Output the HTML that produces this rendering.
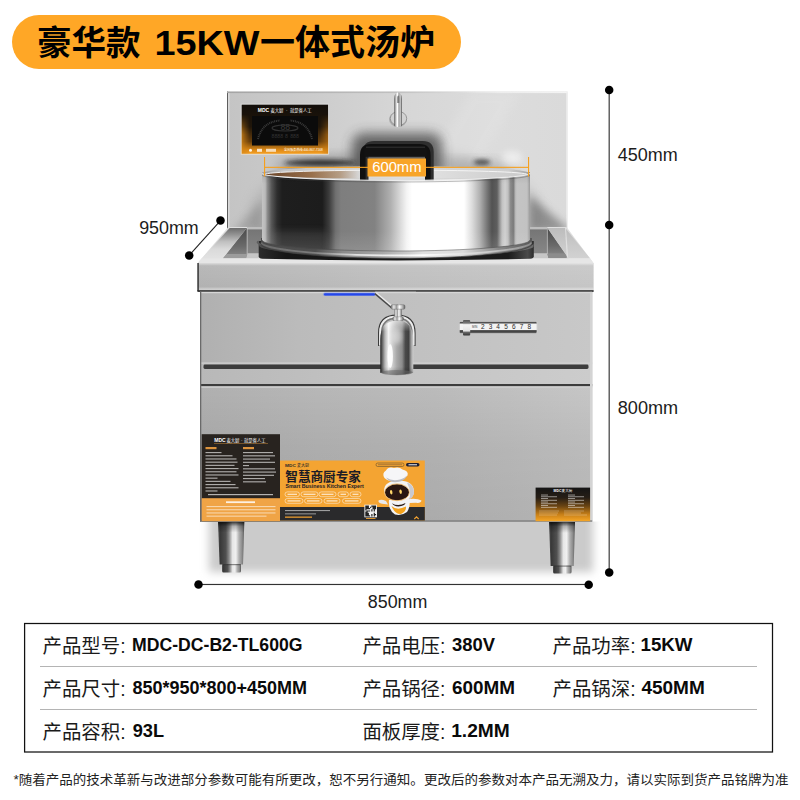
<!DOCTYPE html>
<html><head><meta charset="utf-8"><title>product</title>
<style>html,body{margin:0;padding:0;width:800px;height:800px;overflow:hidden;background:#fff;font-family:"Liberation Sans",sans-serif}svg{display:block}svg text{font-family:"Liberation Sans","Noto Sans CJK SC",sans-serif}</style>
</head><body><svg width="800" height="800" viewBox="0 0 800 800">
<defs>
<linearGradient id="gBack" x1="0" y1="0" x2="1" y2="0">
 <stop offset="0" stop-color="#c4c4c4"/><stop offset="0.25" stop-color="#cccccc"/><stop offset="0.5" stop-color="#d6d6d6"/><stop offset="0.8" stop-color="#dcdcdc"/><stop offset="1" stop-color="#dadada"/>
</linearGradient>
<linearGradient id="gPot" x1="262" y1="0" x2="530" y2="0" gradientUnits="userSpaceOnUse"><stop offset="0" stop-color="#c4c4c4"/><stop offset="0.012" stop-color="#bababa"/><stop offset="0.02" stop-color="#8c8c8c"/><stop offset="0.036" stop-color="#565656"/><stop offset="0.056" stop-color="#2e2e2e"/><stop offset="0.075" stop-color="#1e1e1e"/><stop offset="0.225" stop-color="#1c1c1c"/><stop offset="0.25" stop-color="#3c3c3c"/><stop offset="0.275" stop-color="#707070"/><stop offset="0.295" stop-color="#7e7e7e"/><stop offset="0.42" stop-color="#828282"/><stop offset="0.48" stop-color="#b0b0b0"/><stop offset="0.52" stop-color="#dedede"/><stop offset="0.54" stop-color="#f4f4f4"/><stop offset="0.56" stop-color="#ffffff"/><stop offset="0.754" stop-color="#ffffff"/><stop offset="0.784" stop-color="#dcdcdc"/><stop offset="0.813" stop-color="#b0b0b0"/><stop offset="0.843" stop-color="#707070"/><stop offset="0.858" stop-color="#525252"/><stop offset="0.877" stop-color="#5e5e5e"/><stop offset="0.888" stop-color="#9a9a9a"/><stop offset="0.896" stop-color="#c2c2c2"/><stop offset="0.907" stop-color="#d0d0d0"/><stop offset="0.918" stop-color="#c0c0c0"/><stop offset="0.927" stop-color="#8c8c8c"/><stop offset="0.938" stop-color="#7a7a7a"/><stop offset="0.946" stop-color="#b8b8b8"/><stop offset="0.951" stop-color="#c4c4c4"/><stop offset="0.989" stop-color="#c2c2c2"/><stop offset="1" stop-color="#9a9a9a"/></linearGradient>
<linearGradient id="gLower" x1="0" y1="0" x2="1" y2="0"><stop offset="0" stop-color="#b0b0b0"/><stop offset="0.3" stop-color="#b7b7b7"/><stop offset="0.6" stop-color="#bbbbbb"/><stop offset="1" stop-color="#c6c6c6"/></linearGradient>
<linearGradient id="gMid" x1="0" y1="0" x2="1" y2="0"><stop offset="0" stop-color="#b0b0b0"/><stop offset="0.25" stop-color="#bbbbbb"/><stop offset="0.5" stop-color="#c0c0c0"/><stop offset="1" stop-color="#c8c8c8"/></linearGradient>
<linearGradient id="gShadow" x1="0" y1="0" x2="0" y2="1">
 <stop offset="0" stop-color="#dedede"/><stop offset="1" stop-color="#ffffff"/>
</linearGradient>
<linearGradient id="gLeg" x1="0" y1="0" x2="1" y2="0"><stop offset="0" stop-color="#555"/><stop offset="0.08" stop-color="#383838"/><stop offset="0.3" stop-color="#505050"/><stop offset="0.42" stop-color="#8a8a8a"/><stop offset="0.55" stop-color="#e6e6e6"/><stop offset="0.68" stop-color="#f0f0f0"/><stop offset="0.8" stop-color="#b0b0b0"/><stop offset="0.92" stop-color="#8a8a8a"/><stop offset="1" stop-color="#585858"/></linearGradient>
<linearGradient id="gChrome" x1="0" y1="0" x2="1" y2="0">
 <stop offset="0" stop-color="#777"/><stop offset="0.2" stop-color="#e8e8e8"/><stop offset="0.4" stop-color="#9a9a9a"/><stop offset="0.6" stop-color="#fff"/><stop offset="0.8" stop-color="#bbb"/><stop offset="1" stop-color="#666"/>
</linearGradient>
<linearGradient id="gBasin" x1="0" y1="0" x2="0" y2="1"><stop offset="0" stop-color="#747474"/><stop offset="1" stop-color="#8a8a8a"/></linearGradient>
<linearGradient id="gRimL" x1="0" y1="0" x2="0" y2="1"><stop offset="0" stop-color="#6c6c6c"/><stop offset="0.2" stop-color="#909090"/><stop offset="0.45" stop-color="#c0c0c0"/><stop offset="0.7" stop-color="#dadada"/><stop offset="1" stop-color="#e2e2e2"/></linearGradient>
<linearGradient id="gRimR" x1="0" y1="0" x2="0" y2="1"><stop offset="0" stop-color="#bcbcbc"/><stop offset="0.5" stop-color="#c8c8c8"/><stop offset="1" stop-color="#d2d2d2"/></linearGradient>
<linearGradient id="gPotBand" x1="262" y1="0" x2="530" y2="0" gradientUnits="userSpaceOnUse">
 <stop offset="0" stop-color="#4a4a4a"/><stop offset="0.2" stop-color="#4e4e4e"/><stop offset="0.3" stop-color="#8a8a8a"/><stop offset="0.45" stop-color="#a8a8a8"/><stop offset="0.6" stop-color="#e0e0e0"/><stop offset="0.75" stop-color="#dadada"/><stop offset="0.88" stop-color="#8a8a8a"/><stop offset="1" stop-color="#5a5a5a"/>
</linearGradient>
<linearGradient id="gPanelV" x1="0" y1="0" x2="0" y2="1"><stop offset="0" stop-color="#120e0a"/><stop offset="0.45" stop-color="#20160a"/><stop offset="0.75" stop-color="#6a400c"/><stop offset="0.92" stop-color="#e08c18"/><stop offset="1" stop-color="#f7a224"/></linearGradient>
<linearGradient id="gPanelH" x1="0" y1="0" x2="1" y2="0"><stop offset="0" stop-color="#d98a18" stop-opacity="0.8"/><stop offset="0.1" stop-color="#c87a14" stop-opacity="0"/><stop offset="0.9" stop-color="#c87a14" stop-opacity="0"/><stop offset="1" stop-color="#c87a14" stop-opacity="0.6"/></linearGradient>
<linearGradient id="gPanelM" x1="0" y1="0" x2="0" y2="1"><stop offset="0" stop-color="#fff" stop-opacity="0"/><stop offset="0.2" stop-color="#fff" stop-opacity="0"/><stop offset="0.6" stop-color="#fff" stop-opacity="1"/><stop offset="1" stop-color="#fff" stop-opacity="1"/></linearGradient>
<mask id="mPanel"><rect x="241" y="104" width="88" height="51" fill="url(#gPanelM)"/></mask>
<linearGradient id="gRing" x1="258" y1="0" x2="536" y2="0" gradientUnits="userSpaceOnUse"><stop offset="0" stop-color="#2c2c2c"/><stop offset="0.1" stop-color="#161616"/><stop offset="0.9" stop-color="#1c1c1c"/><stop offset="0.97" stop-color="#4a4a4a"/><stop offset="1" stop-color="#222"/></linearGradient>
<linearGradient id="gPotV" x1="0" y1="172" x2="0" y2="251" gradientUnits="userSpaceOnUse"><stop offset="0" stop-color="#000" stop-opacity="0.10"/><stop offset="0.15" stop-color="#000" stop-opacity="0"/><stop offset="0.75" stop-color="#fff" stop-opacity="0"/><stop offset="1" stop-color="#fff" stop-opacity="0.12"/></linearGradient>
<linearGradient id="gInside" x1="0" y1="0" x2="1" y2="0"><stop offset="0" stop-color="#b0b0b0"/><stop offset="0.35" stop-color="#d6d6d6"/><stop offset="0.6" stop-color="#e2e2e2"/><stop offset="1" stop-color="#cacaca"/></linearGradient>
<linearGradient id="gBrown" x1="0" y1="0" x2="1" y2="0"><stop offset="0" stop-color="#5a3010" stop-opacity="0.85"/><stop offset="0.5" stop-color="#8a5424" stop-opacity="0.75"/><stop offset="0.8" stop-color="#9a6a3a" stop-opacity="0.5"/><stop offset="1" stop-color="#9a6a3a" stop-opacity="0"/></linearGradient>
<linearGradient id="gLblR" x1="0" y1="0" x2="0" y2="1"><stop offset="0" stop-color="#141414"/><stop offset="0.3" stop-color="#261e16"/><stop offset="0.55" stop-color="#6a4412"/><stop offset="0.8" stop-color="#c88018"/><stop offset="1" stop-color="#f6a626"/></linearGradient>
<linearGradient id="gSpout" x1="0" y1="0" x2="1" y2="0"><stop offset="0" stop-color="#1e1e1e"/><stop offset="0.05" stop-color="#5a5a5a"/><stop offset="0.14" stop-color="#b4b4b4"/><stop offset="0.25" stop-color="#f4f4f4"/><stop offset="0.36" stop-color="#d0d0d0"/><stop offset="0.5" stop-color="#a8a8a8"/><stop offset="0.66" stop-color="#8c8c8c"/><stop offset="0.76" stop-color="#4a4a4a"/><stop offset="0.86" stop-color="#404040"/><stop offset="0.93" stop-color="#9a9a9a"/><stop offset="1" stop-color="#d0d0d0"/></linearGradient>
<linearGradient id="gSpoutV" x1="0" y1="0" x2="0" y2="1"><stop offset="0" stop-color="#fff" stop-opacity="0.5"/><stop offset="0.2" stop-color="#fff" stop-opacity="0"/><stop offset="0.85" stop-color="#000" stop-opacity="0"/><stop offset="1" stop-color="#000" stop-opacity="0.25"/></linearGradient>
<linearGradient id="gFlange" x1="0" y1="0" x2="1" y2="0"><stop offset="0" stop-color="#6a6a6a"/><stop offset="0.12" stop-color="#e8e8e8"/><stop offset="0.3" stop-color="#9a9a9a"/><stop offset="0.7" stop-color="#aaaaaa"/><stop offset="0.88" stop-color="#e0e0e0"/><stop offset="1" stop-color="#5e5e5e"/></linearGradient>
<linearGradient id="gLegV" x1="0" y1="0" x2="0" y2="1"><stop offset="0" stop-color="#000" stop-opacity="0.75"/><stop offset="0.1" stop-color="#000" stop-opacity="0.25"/><stop offset="0.25" stop-color="#000" stop-opacity="0"/></linearGradient>
<linearGradient id="gKnob" x1="0" y1="0" x2="0" y2="1"><stop offset="0" stop-color="#555"/><stop offset="0.2" stop-color="#777"/><stop offset="0.3" stop-color="#f4f4f4"/><stop offset="0.7" stop-color="#e4e4e4"/><stop offset="0.8" stop-color="#666"/><stop offset="1" stop-color="#333"/></linearGradient>
<linearGradient id="gLowerH" x1="0" y1="0" x2="1" y2="0"><stop offset="0" stop-color="#000" stop-opacity="0.05"/><stop offset="0.5" stop-color="#000" stop-opacity="0"/><stop offset="1" stop-color="#fff" stop-opacity="0.08"/></linearGradient>
<linearGradient id="gTube" x1="0" y1="0" x2="1" y2="0"><stop offset="0" stop-color="#4e4e4e"/><stop offset="0.2" stop-color="#c4c4c4"/><stop offset="0.42" stop-color="#ffffff"/><stop offset="0.62" stop-color="#9c9c9c"/><stop offset="0.8" stop-color="#d0d0d0"/><stop offset="1" stop-color="#484848"/></linearGradient>
<linearGradient id="gWallL" x1="0" y1="0" x2="0" y2="1"><stop offset="0" stop-color="#4a4a4a"/><stop offset="0.7" stop-color="#6a6a6a"/><stop offset="1" stop-color="#808080"/></linearGradient>
<linearGradient id="gArcHi" x1="262" y1="0" x2="530" y2="0" gradientUnits="userSpaceOnUse"><stop offset="0" stop-color="#777" stop-opacity="0.7"/><stop offset="0.2" stop-color="#8a8a8a" stop-opacity="0.8"/><stop offset="0.35" stop-color="#e8e8e8" stop-opacity="0.9"/><stop offset="0.6" stop-color="#fff" stop-opacity="0.95"/><stop offset="0.85" stop-color="#d0d0d0" stop-opacity="0.9"/><stop offset="1" stop-color="#999" stop-opacity="0.8"/></linearGradient>
<linearGradient id="gTopBand" x1="0" y1="0" x2="1" y2="0"><stop offset="0" stop-color="#b2b2b2"/><stop offset="0.5" stop-color="#bebebe"/><stop offset="1" stop-color="#c6c6c6"/></linearGradient>
<linearGradient id="gBand2" x1="0" y1="0" x2="1" y2="0"><stop offset="0" stop-color="#b8b8b8"/><stop offset="0.5" stop-color="#c4c4c4"/><stop offset="1" stop-color="#cccccc"/></linearGradient>
<linearGradient id="gLip" x1="0" y1="0" x2="1" y2="0"><stop offset="0" stop-color="#9a9a9a"/><stop offset="0.08" stop-color="#c4c4c4"/><stop offset="0.5" stop-color="#d8d8d8"/><stop offset="0.92" stop-color="#cfcfcf"/><stop offset="1" stop-color="#a0a0a0"/></linearGradient>
<linearGradient id="gLowerV" x1="0" y1="0" x2="0" y2="1"><stop offset="0" stop-color="#000" stop-opacity="0"/><stop offset="0.45" stop-color="#000" stop-opacity="0.055"/><stop offset="1" stop-color="#000" stop-opacity="0.085"/></linearGradient>
<linearGradient id="gTopBandV" x1="0" y1="0" x2="0" y2="1"><stop offset="0" stop-color="#fff" stop-opacity="0.55"/><stop offset="0.1" stop-color="#fff" stop-opacity="0.08"/><stop offset="0.85" stop-color="#fff" stop-opacity="0"/><stop offset="0.93" stop-color="#fff" stop-opacity="0.35"/><stop offset="1" stop-color="#fff" stop-opacity="0.35"/></linearGradient>
<linearGradient id="gTopLine" x1="0" y1="0" x2="1" y2="0"><stop offset="0" stop-color="#a4a4a4"/><stop offset="0.5" stop-color="#c0c0c0"/><stop offset="0.8" stop-color="#ececec"/><stop offset="1" stop-color="#f4f4f4"/></linearGradient>
<radialGradient id="gPanelGlow" cx="0" cy="1" r="1">
 <stop offset="0" stop-color="#ff9a10"/><stop offset="0.35" stop-color="#a85c08" stop-opacity="0.7"/><stop offset="0.8" stop-color="#000" stop-opacity="0"/>
</radialGradient>
<filter id="blur2" x="-50%" y="-50%" width="200%" height="200%"><feGaussianBlur stdDeviation="2"/></filter>
<filter id="blur4" x="-50%" y="-50%" width="200%" height="200%"><feGaussianBlur stdDeviation="4"/></filter>
<filter id="blur3" x="-50%" y="-50%" width="200%" height="200%"><feGaussianBlur stdDeviation="3"/></filter>
<filter id="blur6" x="-50%" y="-50%" width="200%" height="200%"><feGaussianBlur stdDeviation="6"/></filter>
<filter id="blur05" x="-50%" y="-50%" width="200%" height="200%"><feGaussianBlur stdDeviation="0.5"/></filter>
<filter id="blur1" x="-50%" y="-50%" width="200%" height="200%"><feGaussianBlur stdDeviation="0.7"/></filter>
</defs>

<rect x="12" y="15" width="449" height="54" rx="27" fill="#ffa726"/>
<text x="37" y="55" font-size="34.5" font-weight="bold" fill="#000">豪华款</text>
<text x="154.5" y="54.9" font-size="34.5" font-weight="bold" fill="#000" textLength="105" lengthAdjust="spacingAndGlyphs">15KW</text>
<text x="260" y="55" font-size="35" font-weight="bold" fill="#000">一体式汤炉</text>
<clipPath id="cGround"><rect x="180" y="521.5" width="440" height="80"/></clipPath>
<g clip-path="url(#cGround)"><rect x="209" y="500" width="384" height="72" fill="#cbcbcb" filter="url(#blur4)"/></g>
<rect x="227" y="91.6" width="340.5" height="137.4" fill="url(#gBack)"/>
<rect x="227" y="91.6" width="1.1" height="137.4" fill="#5e5e5e"/>
<rect x="228.1" y="91.6" width="1.4" height="137.4" fill="#dedede"/>
<rect x="227" y="91.6" width="340.5" height="1.5" fill="url(#gTopLine)"/>
<rect x="566.3" y="91.6" width="1.2" height="137" fill="#f0f0f0"/>
<polygon points="470,93 520,93 440,229 390,229" fill="#fff" opacity="0.10" filter="url(#blur4)"/>
<g clip-path="url(#cBack)"><ellipse cx="396" cy="215" rx="146" ry="66" fill="#888" opacity="0.28" filter="url(#blur6)"/><polygon points="529,195 529,232 572,232" fill="#555" opacity="0.55" filter="url(#blur4)"/><polygon points="263,200 263,232 232,232" fill="#666" opacity="0.35" filter="url(#blur4)"/><ellipse cx="325" cy="166" rx="50" ry="9" fill="#666" opacity="0.45" filter="url(#blur6)"/><ellipse cx="470" cy="167" rx="45" ry="7" fill="#777" opacity="0.3" filter="url(#blur6)"/><rect x="352" y="133" width="90" height="43" rx="12" fill="#3a3a3a" opacity="0.72" filter="url(#blur6)"/><ellipse cx="320" cy="162.8" rx="36" ry="3" fill="#1c1c1c" opacity="0.85" filter="url(#blur2)"/><ellipse cx="482" cy="162.3" rx="8.5" ry="2.8" fill="#333" opacity="0.8" filter="url(#blur2)"/><ellipse cx="512" cy="158" rx="10" ry="7" fill="#fff" opacity="0.5" filter="url(#blur3)"/></g>
<clipPath id="cBack"><rect x="230" y="92" width="337" height="137"/></clipPath>
<rect x="241.2" y="104.2" width="87.3" height="50" fill="url(#gPanelV)"/>
<rect x="241.2" y="104.2" width="87.3" height="50" fill="url(#gPanelH)" mask="url(#mPanel)"/>
<rect x="241.2" y="104.2" width="87.3" height="50" fill="none" stroke="#ececec" stroke-width="0.8" opacity="0.9"/>
<rect x="252" y="116" width="66" height="29.5" fill="#0b0b0b"/>
<path d="M258 139 Q262 122 280 120.5 M312 139 Q308 122 290 120.5" stroke="#3a3a3a" stroke-width="2" fill="none" stroke-dasharray="1 0.8"/>
<ellipse cx="285" cy="128" rx="13" ry="3" fill="none" stroke="#333" stroke-width="1.2"/>
<text x="280.5" y="129.5" font-size="8.6" fill="#3a3a3a">88</text>
<text y="138.4" font-size="5.2" fill="#333"><tspan x="271.5">8888</tspan><tspan x="285.1">8</tspan><tspan x="290.2">888</tspan></text>
<text x="257.8" y="112.3" font-size="4.6" font-weight="bold" fill="#fff" textLength="11.4" lengthAdjust="spacingAndGlyphs">MDC</text>
<text y="112.2" font-size="4.35" fill="#fff"><tspan x="270.4">麦大厨</tspan><tspan x="286">·</tspan><tspan x="289.9">就是省人工</tspan></text>
<rect x="249" y="148.8" width="3" height="3" rx="1.5" fill="#fff" opacity="0.9"/><rect x="257" y="148.8" width="5" height="3" fill="#fff" opacity="0.8"/><rect x="266" y="148.8" width="10" height="3" fill="#fff" opacity="0.7"/>
<text x="284" y="151.4" font-size="2.9" fill="#fff" textLength="38.7" lengthAdjust="spacingAndGlyphs">全国服务热线:400-867-7168</text>
<ellipse cx="398" cy="119.5" rx="9" ry="7.5" fill="#888" opacity="0.5" filter="url(#blur1)"/><ellipse cx="398.5" cy="118.5" rx="8.2" ry="7" fill="#d2d2d2" stroke="#8a8a8a" stroke-width="0.8"/>
<path d="M394.3 126 L394.3 99 Q394.3 92.5 398 92.5 Q401.8 92.5 401.8 99 L401.8 126 Q398 128 394.3 126 Z" fill="url(#gTube)"/>
<path d="M397.2 103 L397.2 97.5 Q397.4 95.3 398.6 95.5 Q399.4 95.8 399.3 98 L399.3 103 Z" fill="#6a6a6a" opacity="0.8"/>
<polygon points="228.3,227 566.5,227 593.6,263.3 197.6,263.3" fill="#dedede"/>
<polygon points="247,228 547.4,228 568.5,258.3 222.8,258.3" fill="url(#gBasin)"/>
<rect x="247" y="227" width="300.4" height="2.4" fill="#bdbdbd"/>
<polygon points="247.3,253.3 547.3,253.3 548.5,258.3 246,258.3" fill="#c6c6c6"/>
<polygon points="246.9,228 247.3,253.9 226.7,253.9" fill="url(#gWallL)"/>
<polygon points="226.7,253.9 247.3,253.9 246,258.3 222.8,258.3" fill="#9c9c9c"/>
<rect x="246.7" y="228" width="0.9" height="26" fill="#cfcfcf" opacity="0.8"/>
<polygon points="547.4,228 547.3,253.5 565,253.5" fill="url(#gWallL)"/>
<polygon points="547.3,253.5 565,253.5 568.5,258.3 548.5,258.3" fill="#8c8c8c"/>
<rect x="546.9" y="228" width="0.9" height="26" fill="#cfcfcf" opacity="0.7"/>
<polygon points="229.6,228 246.9,228 222.8,258.3 202,258.3" fill="url(#gRimL)"/>
<polygon points="547.4,228 565.3,228 590,258.3 568.5,258.3" fill="url(#gRimR)"/>
<polygon points="565,228 566,228 568.2,258.3 566.8,258.3" fill="#e6e6e6" opacity="0.8"/>
<polygon points="201.6,258.3 590.2,258.3 593.6,263.3 197.6,263.3" fill="#e6e6e6"/>
<path d="M258.7 241 L258.7 256.3 Q258.7 258.6 262.5 258.8 Q397 262 530 258.8 Q533.8 258.6 533.8 256.3 L533.8 241 Z" fill="url(#gRing)"/>
<path d="M259 243 A138 10 0 0 0 290 249.5 L290 252 A138 10 0 0 1 259 246 Z" fill="#555" opacity="0.8"/>
<path d="M533.5 243 A138 10 0 0 1 500 250 L500 253 A138 10 0 0 0 533.5 246.5 Z" fill="#777" opacity="0.8"/>
<path d="M258.5 241 A138.5 10 0 0 0 300 249.5" fill="none" stroke="#5c5c5c" stroke-width="1.4"/>
<path d="M261 238 L261 244 A135.5 14.3 0 0 0 532 244 L532 238 Z" fill="url(#gPotBand)"/>
<path d="M261 244 A135.5 14.3 0 0 0 532 244" fill="none" stroke="#3a3a3a" stroke-width="1" opacity="0.7"/>
<path d="M262 172 L262 240 A134 11 0 0 0 530 240 L530 172 Z" fill="url(#gPot)"/>
<path d="M262 172 L262 240 A134 11 0 0 0 530 240 L530 172 Z" fill="url(#gPotV)"/>
<path d="M262 240 A134 11 0 0 0 530 240" fill="none" stroke="#444" stroke-width="0.9" opacity="0.55"/>
<path d="M261.5 242.4 A134.5 13 0 0 0 531 242.4" fill="none" stroke="url(#gArcHi)" stroke-width="1.8" filter="url(#blur05)"/>
<ellipse cx="396" cy="173.3" rx="134" ry="7.2" fill="url(#gLip)"/>
<clipPath id="cInner"><ellipse cx="396" cy="174.4" rx="131" ry="4.3"/></clipPath>
<ellipse cx="396" cy="174.4" rx="131" ry="4.3" fill="url(#gInside)"/>
<g clip-path="url(#cInner)"><rect x="264" y="168" width="95" height="14" fill="url(#gBrown)"/></g>
<path d="M265 174.4 A131 4.3 0 0 1 527 174.4" fill="none" stroke="#f6f6f6" stroke-width="1" opacity="0.95"/>
<path d="M365.8 182 L365.8 152 Q365.8 143.8 374 143.8 L422.8 143.8 Q431 143.8 431 152 L431 182" fill="none" stroke="#2e2e2e" stroke-width="5.4"/>
<path d="M362.8 182 L362.8 155 Q362.8 146.8 371 146.8 L419.5 146.8 Q427.8 146.8 427.8 155 L427.8 182" fill="none" stroke="#101010" stroke-width="5.6"/>
<rect x="364.5" y="147.5" width="62" height="9.3" fill="#121212"/>
<path d="M366 147.2 L425 147.2" stroke="#3c3c3c" stroke-width="0.8"/>
<clipPath id="cFront"><path d="M262 173.5 A134 7 0 0 0 530 173.5 L530 200 L262 200 Z"/></clipPath>
<g clip-path="url(#cFront)"><rect x="262" y="172" width="268" height="28" fill="url(#gPot)"/><rect x="262" y="172" width="268" height="28" fill="url(#gPotV)"/></g>
<clipPath id="cPot"><path d="M262 173.5 A134 7 0 0 0 530 173.5 L530 240 A134 11 0 0 1 262 240 Z"/></clipPath>
<g clip-path="url(#cPot)"><rect x="270" y="230" width="56" height="24" fill="#888" opacity="0.18" filter="url(#blur3)"/></g>
<path d="M262.4 173.3 A133.6 7 0 0 0 529.6 173.3" fill="none" stroke="#ededed" stroke-width="1.2"/>
<path d="M262 175 A134 7 0 0 0 530 175" fill="none" stroke="#444" stroke-width="0.8" opacity="0.45"/>
<rect x="264.5" y="166.8" width="264" height="1.1" fill="#f5a01f"/>
<rect x="264" y="157" width="1.1" height="19.5" fill="#f5a01f"/><rect x="528" y="157" width="1.1" height="19.5" fill="#f5a01f"/>
<rect x="367.5" y="158.5" width="58.5" height="18" fill="#f8a428"/>
<text x="372.2" y="172.4" font-size="15.4" fill="#fff" textLength="49.3" lengthAdjust="spacingAndGlyphs">600mm</text>
<rect x="197.4" y="263" width="396.2" height="28" fill="url(#gTopBand)"/>
<rect x="197.4" y="263" width="396.2" height="28" fill="url(#gTopBandV)"/>
<rect x="197.4" y="263" width="1.4" height="28" fill="#333"/>
<rect x="197.4" y="290.2" width="396.2" height="1.7" fill="#2c2c2c"/>
<rect x="200" y="291.9" width="392.2" height="229.7" fill="#b0b0b0"/>
<rect x="200" y="291.9" width="392.2" height="72.4" fill="url(#gMid)"/>
<rect x="200" y="291.9" width="392.2" height="1.3" fill="#d6d6d6"/>
<rect x="200" y="362.3" width="392.2" height="2" fill="#d2d2d2" opacity="0.7"/>
<rect x="200" y="364.3" width="392.2" height="20" fill="url(#gBand2)"/>
<rect x="203.5" y="364.6" width="385" height="4.4" rx="1.4" fill="#3c3c3c"/>
<rect x="200" y="384" width="392.2" height="2.4" fill="#3c3c3c"/>
<rect x="200" y="386.4" width="392.2" height="135.2" fill="url(#gLower)"/>
<rect x="200" y="386.4" width="392.2" height="135.2" fill="url(#gLowerV)"/>
<rect x="200" y="386.4" width="392.2" height="1.5" fill="#cfcfcf" opacity="0.9"/>
<rect x="200" y="291.9" width="1.3" height="229.7" fill="#6a6a6a"/>
<rect x="590" y="291.9" width="2.2" height="229.7" fill="#d4d4d4"/>
<rect x="200" y="520.4" width="392.2" height="1.2" fill="#777"/>
<rect x="323" y="292.4" width="53" height="3.6" rx="1.8" fill="#4a6cff" opacity="0.45" filter="url(#blur1)"/>
<rect x="324" y="293.2" width="51" height="2.3" rx="1.1" fill="#2447ea"/>
<path d="M375 291.4 L416 291.4" stroke="#8d8d8d" stroke-width="0.9"/>
<path d="M375.2 293.2 L391.8 307.3" stroke="#4a4a4a" stroke-width="2.6"/>
<path d="M375.6 292.3 L392.2 306.4" stroke="#ececec" stroke-width="1.5"/>
<path d="M378.6 346 L378.6 333 Q378.6 315.2 396.8 315.2 Q415 315.2 415 333 L415 346" fill="none" stroke="#3c3c3c" stroke-width="1.2"/>
<path d="M380 345 L380 333.5 Q380 316.6 396.8 316.6 Q413.6 316.6 413.6 333.5 L413.6 345" fill="none" stroke="#ededed" stroke-width="1.7"/>
<path d="M381.6 344 L381.6 334 Q381.6 318.2 396.8 318.2 Q412 318.2 412 334 L412 344" fill="none" stroke="#7a7a7a" stroke-width="1.4"/>
<rect x="394.4" y="304.6" width="7.4" height="16.5" rx="1.2" fill="url(#gChrome)"/>
<rect x="391" y="304.8" width="14" height="4.4" rx="1.4" fill="url(#gChrome)" stroke="#555" stroke-width="0.4"/>
<rect x="392.8" y="316.8" width="10.6" height="3.9" rx="1.2" fill="url(#gChrome)" stroke="#555" stroke-width="0.3"/>
<path d="M380.3 372.8 L380.3 340 Q380.3 320.7 396.8 320.7 Q413.3 320.7 413.3 340 L413.3 372.8 Q396.8 377 380.3 372.8 Z" fill="url(#gSpout)"/>
<path d="M380.3 372.8 L380.3 340 Q380.3 320.7 396.8 320.7 Q413.3 320.7 413.3 340 L413.3 372.8 Q396.8 377 380.3 372.8 Z" fill="url(#gSpoutV)"/>
<ellipse cx="396.8" cy="372.6" rx="16" ry="2.6" fill="#666" opacity="0.55"/>
<ellipse cx="390.2" cy="356" rx="2.7" ry="12" fill="#fff" opacity="0.95" filter="url(#blur1)"/>
<ellipse cx="397" cy="336" rx="5" ry="8" fill="#fff" opacity="0.4" filter="url(#blur2)"/>
<rect x="459.4" y="321.7" width="77.5" height="11.5" rx="1.2" fill="#454545"/>
<rect x="459.4" y="323.5" width="77.5" height="6.6" fill="#f3f3f3"/>
<rect x="459.4" y="321.7" width="77.5" height="11.5" rx="1.2" fill="none" stroke="#e4e4e4" stroke-width="0.6" opacity="0.7"/>
<rect x="463" y="320" width="7.2" height="15.5" rx="1" fill="url(#gKnob)"/>
<text x="472" y="328.4" font-size="3.2" fill="#444" textLength="5.3" lengthAdjust="spacingAndGlyphs">MIN</text>
<text x="480.9 488.7 496.3 504.2 512 519.7 527.5" y="329.2" font-size="6.5" fill="#2a2a2a">2345678</text>
<rect x="201.7" y="434.2" width="78.3" height="87" fill="#28231f"/>
<rect x="201.7" y="498.2" width="78.3" height="23" fill="#f0a446"/>
<text x="214.3" y="441.6" font-size="4.6" font-weight="bold" fill="#fff" textLength="11.4" lengthAdjust="spacingAndGlyphs">MDC</text>
<text y="441.6" font-size="4.35" fill="#fff"><tspan x="226.4">麦大厨</tspan><tspan x="241">·</tspan><tspan x="243.9">就是省人工</tspan></text>
<rect x="214" y="443.2" width="54" height="0.5" fill="#c98a3a"/>
<rect x="205.5" y="447" width="11" height="2.2" fill="#f0a040" opacity="0.9"/><rect x="243" y="447" width="11" height="2.2" fill="#f0a040" opacity="0.9"/>
<rect x="205.5" y="452.00" width="16.0" height="1.15" fill="#fff" opacity="0.62"/><rect x="205.5" y="455.20" width="27.0" height="1.15" fill="#fff" opacity="0.62"/><rect x="205.5" y="458.40" width="31.0" height="1.15" fill="#fff" opacity="0.62"/><rect x="205.5" y="461.60" width="32.0" height="1.15" fill="#fff" opacity="0.62"/><rect x="205.5" y="464.80" width="29.0" height="1.15" fill="#fff" opacity="0.62"/><rect x="205.5" y="468.00" width="33.0" height="1.15" fill="#fff" opacity="0.62"/><rect x="205.5" y="471.20" width="31.0" height="1.15" fill="#fff" opacity="0.62"/><rect x="205.5" y="474.40" width="33.0" height="1.15" fill="#fff" opacity="0.62"/><rect x="205.5" y="477.60" width="12.0" height="1.15" fill="#fff" opacity="0.62"/><rect x="205.5" y="480.80" width="25.0" height="1.15" fill="#fff" opacity="0.62"/><rect x="205.5" y="484.00" width="30.0" height="1.15" fill="#fff" opacity="0.62"/><rect x="205.5" y="487.20" width="33.0" height="1.15" fill="#fff" opacity="0.62"/><rect x="205.5" y="490.40" width="12.0" height="1.15" fill="#fff" opacity="0.62"/>
<rect x="243.0" y="452.00" width="30.0" height="1.15" fill="#fff" opacity="0.62"/><rect x="243.0" y="455.25" width="32.0" height="1.15" fill="#fff" opacity="0.62"/><rect x="243.0" y="458.50" width="27.0" height="1.15" fill="#fff" opacity="0.62"/><rect x="243.0" y="461.75" width="32.0" height="1.15" fill="#fff" opacity="0.62"/><rect x="243.0" y="465.00" width="6.0" height="1.15" fill="#fff" opacity="0.62"/><rect x="243.0" y="468.25" width="32.0" height="1.15" fill="#fff" opacity="0.62"/><rect x="243.0" y="471.50" width="33.0" height="1.15" fill="#fff" opacity="0.62"/><rect x="243.0" y="474.75" width="31.0" height="1.15" fill="#fff" opacity="0.62"/><rect x="243.0" y="478.00" width="22.0" height="1.15" fill="#fff" opacity="0.62"/><rect x="243.0" y="481.25" width="23.0" height="1.15" fill="#fff" opacity="0.62"/>
<rect x="208" y="494" width="65" height="1.2" fill="#fff" opacity="0.65"/>
<rect x="226" y="501.3" width="29" height="1.8" fill="#fff" opacity="0.85"/>
<rect x="206.5" y="506.00" width="69.0" height="1.10" fill="#fff" opacity="0.55"/><rect x="206.5" y="509.20" width="69.0" height="1.10" fill="#fff" opacity="0.55"/><rect x="206.5" y="512.40" width="69.0" height="1.10" fill="#fff" opacity="0.55"/><rect x="206.5" y="515.60" width="60.0" height="1.10" fill="#fff" opacity="0.55"/>
<rect x="280" y="460.5" width="144.8" height="60" fill="#f4a432"/>
<rect x="280" y="507" width="144.8" height="13.5" fill="#2a2a2c"/>
<text x="285.1" y="466.9" font-size="4.3" font-weight="bold" fill="#2a2a2a" textLength="10.7" lengthAdjust="spacingAndGlyphs">MDC</text>
<text x="296.9" y="467" font-size="4.1" fill="#2a2a2a">麦大厨</text>
<text x="285.3" y="481.4" font-size="12.6" font-weight="bold" fill="#1b1b26">智慧商厨专家</text>
<text x="285.4" y="487.6" font-size="5" font-weight="bold" fill="#1b1b26" textLength="78.4" lengthAdjust="spacingAndGlyphs">Smart Business Kitchen Expert</text>
<rect x="285.0" y="491.9" width="14.5" height="4.8" rx="2.4" fill="none" stroke="#fff" stroke-width="0.55" opacity="0.9"/><rect x="287.5" y="493.7" width="9.5" height="1.2" fill="#fff" opacity="0.75"/>
<rect x="301.0" y="491.9" width="17.0" height="4.8" rx="2.4" fill="none" stroke="#fff" stroke-width="0.55" opacity="0.9"/><rect x="303.5" y="493.7" width="12.0" height="1.2" fill="#fff" opacity="0.75"/>
<rect x="319.0" y="491.9" width="17.0" height="4.8" rx="2.4" fill="none" stroke="#fff" stroke-width="0.55" opacity="0.9"/><rect x="321.5" y="493.7" width="12.0" height="1.2" fill="#fff" opacity="0.75"/>
<rect x="338.0" y="491.9" width="10.5" height="4.8" rx="2.4" fill="none" stroke="#fff" stroke-width="0.55" opacity="0.9"/><rect x="340.5" y="493.7" width="5.5" height="1.2" fill="#fff" opacity="0.75"/>
<rect x="350.0" y="491.9" width="11.0" height="4.8" rx="2.4" fill="none" stroke="#fff" stroke-width="0.55" opacity="0.9"/><rect x="352.5" y="493.7" width="6.0" height="1.2" fill="#fff" opacity="0.75"/>
<rect x="285.0" y="498.5" width="18.0" height="4.8" rx="2.4" fill="none" stroke="#fff" stroke-width="0.55" opacity="0.9"/><rect x="287.5" y="500.3" width="13.0" height="1.2" fill="#fff" opacity="0.75"/>
<rect x="304.5" y="498.5" width="17.5" height="4.8" rx="2.4" fill="none" stroke="#fff" stroke-width="0.55" opacity="0.9"/><rect x="307.0" y="500.3" width="12.5" height="1.2" fill="#fff" opacity="0.75"/>
<rect x="324.0" y="498.5" width="16.0" height="4.8" rx="2.4" fill="none" stroke="#fff" stroke-width="0.55" opacity="0.9"/><rect x="326.5" y="500.3" width="11.0" height="1.2" fill="#fff" opacity="0.75"/>
<rect x="342.5" y="498.5" width="18.5" height="4.8" rx="2.4" fill="none" stroke="#fff" stroke-width="0.55" opacity="0.9"/><rect x="345.0" y="500.3" width="13.5" height="1.2" fill="#fff" opacity="0.75"/>
<rect x="285" y="510" width="45" height="1.1" fill="#bbb" opacity="0.8"/><rect x="285" y="513.3" width="31" height="1.1" fill="#bbb" opacity="0.7"/><rect x="285" y="516.5" width="27" height="1.3" fill="#f0a030" opacity="0.95"/>
<rect x="376" y="463" width="28" height="3.5" rx="1.75" fill="none" stroke="#4a4030" stroke-width="0.5"/><rect x="378" y="464.3" width="24" height="0.9" fill="#6a5030" opacity="0.6"/>
<rect x="406" y="463" width="13.5" height="3.5" rx="1.75" fill="#1f1f30"/><rect x="408.5" y="464.2" width="8.5" height="1.1" fill="#fff" opacity="0.85"/>
<rect x="364.4" y="504.7" width="12.6" height="12.6" fill="#f2f2f2"/>
<path d="M365.30 505.60h1.2v1.2h-1.2zM366.50 505.60h1.2v1.2h-1.2zM367.70 505.60h1.2v1.2h-1.2zM371.30 505.60h1.2v1.2h-1.2zM372.50 505.60h1.2v1.2h-1.2zM373.70 505.60h1.2v1.2h-1.2zM374.90 505.60h1.2v1.2h-1.2zM365.30 506.80h1.2v1.2h-1.2zM366.50 506.80h1.2v1.2h-1.2zM367.70 506.80h1.2v1.2h-1.2zM370.10 506.80h1.2v1.2h-1.2zM372.50 506.80h1.2v1.2h-1.2zM373.70 506.80h1.2v1.2h-1.2zM374.90 506.80h1.2v1.2h-1.2zM365.30 508.00h1.2v1.2h-1.2zM366.50 508.00h1.2v1.2h-1.2zM367.70 508.00h1.2v1.2h-1.2zM368.90 508.00h1.2v1.2h-1.2zM372.50 508.00h1.2v1.2h-1.2zM373.70 508.00h1.2v1.2h-1.2zM374.90 508.00h1.2v1.2h-1.2zM365.30 509.20h1.2v1.2h-1.2zM371.30 509.20h1.2v1.2h-1.2zM373.70 509.20h1.2v1.2h-1.2zM366.50 510.40h1.2v1.2h-1.2zM367.70 510.40h1.2v1.2h-1.2zM368.90 510.40h1.2v1.2h-1.2zM371.30 510.40h1.2v1.2h-1.2zM373.70 510.40h1.2v1.2h-1.2zM365.30 511.60h1.2v1.2h-1.2zM366.50 511.60h1.2v1.2h-1.2zM365.30 512.80h1.2v1.2h-1.2zM366.50 512.80h1.2v1.2h-1.2zM367.70 512.80h1.2v1.2h-1.2zM373.70 512.80h1.2v1.2h-1.2zM365.30 514.00h1.2v1.2h-1.2zM366.50 514.00h1.2v1.2h-1.2zM367.70 514.00h1.2v1.2h-1.2zM371.30 514.00h1.2v1.2h-1.2zM373.70 514.00h1.2v1.2h-1.2zM374.90 514.00h1.2v1.2h-1.2zM365.30 515.20h1.2v1.2h-1.2zM366.50 515.20h1.2v1.2h-1.2zM367.70 515.20h1.2v1.2h-1.2zM368.90 515.20h1.2v1.2h-1.2zM371.30 515.20h1.2v1.2h-1.2zM373.70 515.20h1.2v1.2h-1.2z" fill="#222"/>
<rect x="366" y="518" width="9.5" height="0.9" fill="#f0a030"/>
<path d="M414.3 519 L416.5 516.8 L418.7 519" fill="none" stroke="#f0a030" stroke-width="1.1"/>
<g>
<path d="M386 501 Q381 499 378.5 500.5 Q378 503 382 503.8 L388 504.5 Z" fill="#e9e9ec"/>
<path d="M409 499 Q417 498 421.5 500.5 Q421 503.5 416 502.8 L409 503 Z" fill="#f1f1f3"/>
<path d="M389 500 Q388 510 395 514.5 Q402 516 407 512 Q411 506 409 499 Z" fill="#f3f3f5"/>
<path d="M391.5 506 Q397 511 406 506.5 Q406.5 511.5 401 514 Q395 514.5 391.5 506 Z" fill="#f2a21e"/>
<path d="M392 503.2 Q398 507 405.5 503 Q405 505.5 398.5 506.5 Q393.5 506 392 503.2 Z" fill="#2a1a14"/>
<path d="M384 491 Q384 481 398 480.5 Q414 480.5 414 492 Q413.5 500.5 398 500.5 Q384.5 500.5 384 491 Z" fill="#f4f4f6"/>
<path d="M407 482.5 Q414.5 485 414 493 Q413 498 409 499.5 Q412 493 407 482.5 Z" fill="#c9c9cf"/>
<ellipse cx="397" cy="492.3" rx="12" ry="8" fill="#2a1712"/>
<ellipse cx="397" cy="492.3" rx="12.4" ry="8.4" fill="none" stroke="#e8941a" stroke-width="0.7" opacity="0.8"/>
<ellipse cx="391.2" cy="492.2" rx="1.25" ry="2.3" fill="#ffd76a" transform="rotate(-8 391.2 492.2)"/><ellipse cx="400.6" cy="491.7" rx="1.25" ry="2.3" fill="#ffd76a" transform="rotate(-8 400.6 491.7)"/>
<path d="M384.5 478 Q381.5 473 386 470.5 Q388 466.5 394 468 Q399 466.5 402.5 469.5 Q409 471 407.5 475.5 Q404 479.5 399 480.5 Q390 483 384.5 478 Z" fill="#f6f6f8"/>
<path d="M386 477.5 Q392 481.5 400 479.5 Q404.5 478.5 407 475.5 Q405 480.5 399 481.8 Q390 483.5 386 477.5 Z" fill="#bdbdc4"/>
</g>
<rect x="535.6" y="487.6" width="54.5" height="33.6" fill="url(#gLblR)"/>
<text x="553.6" y="492.4" font-size="3.6" font-weight="bold" fill="#fff" textLength="7.8" lengthAdjust="spacingAndGlyphs">MDC</text>
<text x="561.6" y="492.4" font-size="3.55" fill="#fff">麦大厨</text>
<rect x="541.0" y="494.60" width="7.0" height="0.85" fill="#fff" opacity="0.60"/><rect x="541.0" y="496.35" width="16.0" height="0.85" fill="#fff" opacity="0.60"/><rect x="541.0" y="498.10" width="7.0" height="0.85" fill="#fff" opacity="0.60"/><rect x="541.0" y="499.85" width="16.0" height="0.85" fill="#fff" opacity="0.60"/><rect x="541.0" y="501.60" width="7.0" height="0.85" fill="#fff" opacity="0.60"/><rect x="541.0" y="503.35" width="16.0" height="0.85" fill="#fff" opacity="0.60"/><rect x="541.0" y="505.10" width="7.0" height="0.85" fill="#fff" opacity="0.60"/><rect x="541.0" y="506.85" width="16.0" height="0.85" fill="#fff" opacity="0.60"/>
<rect x="568.0" y="494.60" width="7.0" height="0.85" fill="#fff" opacity="0.60"/><rect x="568.0" y="496.35" width="16.0" height="0.85" fill="#fff" opacity="0.60"/><rect x="568.0" y="498.10" width="7.0" height="0.85" fill="#fff" opacity="0.60"/><rect x="568.0" y="499.85" width="16.0" height="0.85" fill="#fff" opacity="0.60"/><rect x="568.0" y="501.60" width="7.0" height="0.85" fill="#fff" opacity="0.60"/><rect x="568.0" y="503.35" width="16.0" height="0.85" fill="#fff" opacity="0.60"/><rect x="568.0" y="505.10" width="7.0" height="0.85" fill="#fff" opacity="0.60"/><rect x="568.0" y="506.85" width="16.0" height="0.85" fill="#fff" opacity="0.60"/>
<rect x="539.0" y="510.60" width="20.0" height="0.80" fill="#fff" opacity="0.35"/><rect x="539.0" y="512.60" width="19.0" height="0.80" fill="#fff" opacity="0.35"/><rect x="539.0" y="514.60" width="18.0" height="0.80" fill="#fff" opacity="0.35"/>
<rect x="564.0" y="510.60" width="20.0" height="0.80" fill="#fff" opacity="0.35"/><rect x="564.0" y="512.60" width="17.0" height="0.80" fill="#fff" opacity="0.35"/><rect x="564.0" y="514.60" width="23.0" height="0.80" fill="#fff" opacity="0.35"/>
<polygon points="218,522 244.3,522 243.0,564.5 219.6,564.5" fill="url(#gLeg)"/>
<polygon points="218,522 244.3,522 243.0,564.5 219.6,564.5" fill="url(#gLegV)"/>
<rect x="222" y="564.0" width="19" height="8.5" rx="1.6" fill="url(#gLeg)"/>
<rect x="222" y="564.0" width="19" height="1.2" fill="#333" opacity="0.55"/>
<polygon points="549,522 575,522 573.7,566 550.6,566" fill="url(#gLeg)"/>
<polygon points="549,522 575,522 573.7,566 550.6,566" fill="url(#gLegV)"/>
<rect x="553" y="565.5" width="18.5" height="8.0" rx="1.6" fill="url(#gLeg)"/>
<rect x="553" y="565.5" width="18.5" height="1.2" fill="#333" opacity="0.55"/>
<rect x="608.6" y="90" width="1.15" height="482.6" fill="#333"/>
<circle cx="609.2" cy="90" r="4.25" fill="#000"/>
<circle cx="609.2" cy="225.1" r="4.25" fill="#000"/>
<circle cx="609.2" cy="572.6" r="4.25" fill="#000"/>
<text x="617.8" y="161" font-size="18.8" fill="#1c1c1c" textLength="60" lengthAdjust="spacingAndGlyphs">450mm</text>
<text x="617.8" y="414" font-size="18.8" fill="#1c1c1c" textLength="60.4" lengthAdjust="spacingAndGlyphs">800mm</text>
<path d="M220.5 220.6 L189.2 255.4" stroke="#222" stroke-width="1.1"/>
<circle cx="220.5" cy="220.6" r="4.25" fill="#000"/><circle cx="189.2" cy="255.4" r="4.25" fill="#000"/>
<text x="139.2" y="234" font-size="18.8" fill="#1c1c1c" textLength="59.5" lengthAdjust="spacingAndGlyphs">950mm</text>
<rect x="198" y="583.9" width="391" height="1.15" fill="#333"/>
<circle cx="198.5" cy="584.5" r="4.25" fill="#000"/><circle cx="588.7" cy="584.7" r="4.25" fill="#000"/>
<text x="367.8" y="607.8" font-size="18.8" fill="#1c1c1c" textLength="59.5" lengthAdjust="spacingAndGlyphs">850mm</text>
<rect x="24.6" y="623.5" width="747.9" height="128.5" fill="#fff" stroke="#111" stroke-width="1.25"/>
<rect x="40" y="666" width="717" height="1" fill="#b4b4b4"/>
<rect x="40" y="709" width="717" height="1" fill="#b4b4b4"/>
<text x="42.6" y="653" font-size="19.4" fill="#1a1a1a">产品型号:</text>
<text x="132" y="651.4" font-size="17.8" font-weight="bold" fill="#0a0a0a" textLength="170.5" lengthAdjust="spacingAndGlyphs">MDC-DC-B2-TL600G</text>
<text x="362.4" y="653" font-size="19.4" fill="#1a1a1a">产品电压:</text>
<text x="452" y="651.4" font-size="17.8" font-weight="bold" fill="#0a0a0a" textLength="43" lengthAdjust="spacingAndGlyphs">380V</text>
<text x="552.6" y="653" font-size="19.4" fill="#1a1a1a">产品功率:</text>
<text x="640.5" y="651.4" font-size="17.8" font-weight="bold" fill="#0a0a0a" textLength="52" lengthAdjust="spacingAndGlyphs">15KW</text>
<text x="42.6" y="696" font-size="19.4" fill="#1a1a1a">产品尺寸:</text>
<text x="132.6" y="694.4" font-size="17.8" font-weight="bold" fill="#0a0a0a" textLength="174.5" lengthAdjust="spacingAndGlyphs">850*950*800+450MM</text>
<text x="362.4" y="696" font-size="19.4" fill="#1a1a1a">产品锅径:</text>
<text x="452" y="694.4" font-size="17.8" font-weight="bold" fill="#0a0a0a" textLength="63" lengthAdjust="spacingAndGlyphs">600MM</text>
<text x="552.6" y="696" font-size="19.4" fill="#1a1a1a">产品锅深:</text>
<text x="641.4" y="694.4" font-size="17.8" font-weight="bold" fill="#0a0a0a" textLength="63.4" lengthAdjust="spacingAndGlyphs">450MM</text>
<text x="42.6" y="738.7" font-size="19.4" fill="#1a1a1a">产品容积:</text>
<text x="132.7" y="737.1" font-size="17.8" font-weight="bold" fill="#0a0a0a" textLength="31.3" lengthAdjust="spacingAndGlyphs">93L</text>
<text x="362.4" y="738.7" font-size="19.4" fill="#1a1a1a">面板厚度:</text>
<text x="451.2" y="737.1" font-size="17.8" font-weight="bold" fill="#0a0a0a" textLength="58.6" lengthAdjust="spacingAndGlyphs">1.2MM</text>
<text x="13.4" y="783.6" font-size="13" fill="#222" textLength="775.2" lengthAdjust="spacingAndGlyphs">*随着产品的技术革新与改进部分参数可能有所更改，恕不另行通知。更改后的参数对本产品无溯及力，请以实际到货产品铭牌为准</text></svg></body></html>
